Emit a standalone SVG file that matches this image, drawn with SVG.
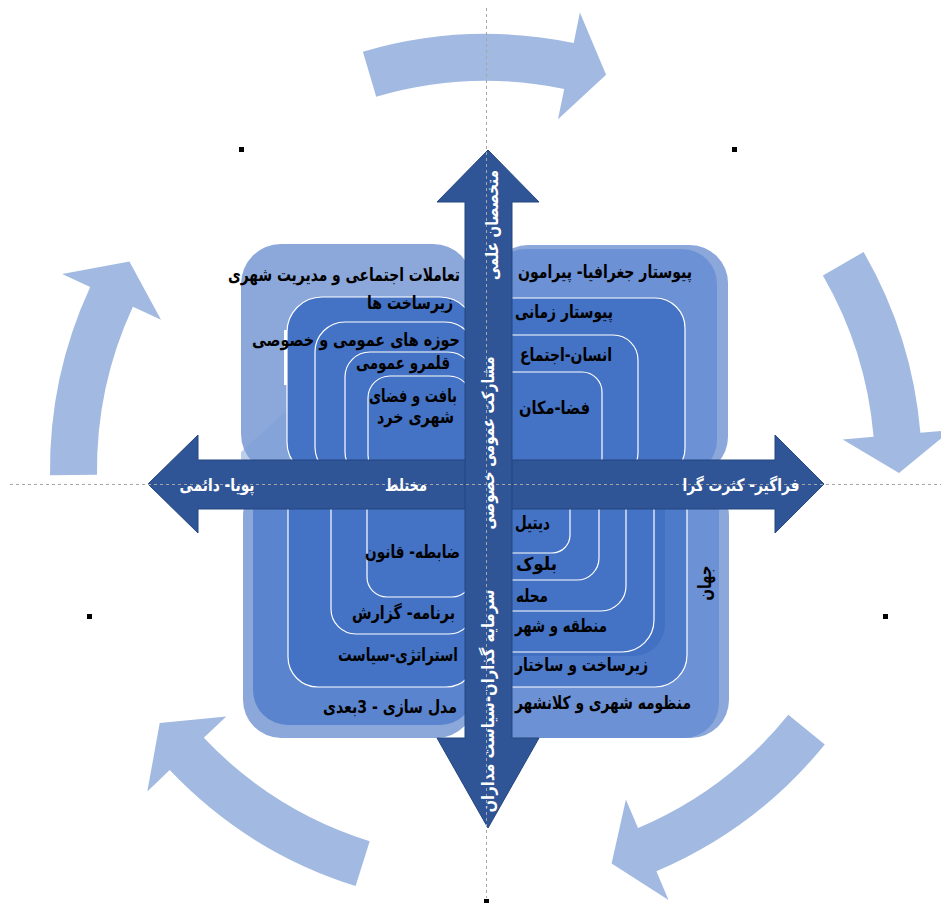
<svg xmlns="http://www.w3.org/2000/svg" width="941" height="904" viewBox="0 0 941 904">
<style>
.arc{fill:#A2BAE1}
.light{fill:#8CA8DB}
.mid{fill:#6C91D5}
.inner{fill:#4472C4;stroke:#fff;stroke-width:1.2}
.arrow{fill:#2F5597;stroke:#24467F;stroke-width:1}
.dash{stroke:#A6A6A6;stroke-width:1;stroke-dasharray:3 3;fill:none}
.t{font-family:"DejaVu Sans","Liberation Sans",sans-serif;font-weight:bold;font-size:18px;fill:#000}
.w{fill:#fff;font-size:17px}
.h{fill:#000}
</style>
<rect width="941" height="904" fill="#fff"/>
<g id="cycle">
<path class="arc" d="M362.9,51.7 A436,436 0 0 1 573.7,42.9 L579.9,12.5 L606.1,74.8 L558,119.3 L564.2,88.9 A389,389 0 0 0 376.2,96.8 Z"/>
<path class="arc" d="M863.6,252 A436,436 0 0 1 920.4,432.8 L951.3,430.1 L899,472.9 L842.7,439.4 L873.6,436.8 A389,389 0 0 0 822.9,275.5 Z"/>
<path class="arc" d="M824.8,744.4 A436,436 0 0 1 656.4,871.3 L668.5,899.9 L611.6,863.5 L625.9,799.5 L638,828.1 A389,389 0 0 0 788.3,714.8 Z"/>
<path class="arc" d="M355.6,886 A436,436 0 0 1 169.7,770.1 L147.3,791.5 L159.7,723.1 L226.3,716.4 L203.8,737.8 A389,389 0 0 0 369.7,841.2 Z"/>
<path class="arc" d="M50,475.3 A436,436 0 0 1 90.2,287.1 L62.1,274.1 L129.4,261.6 L161,319.8 L132.9,306.8 A389,389 0 0 0 97,474.8 Z"/>
</g>
<g id="q-top-left">
<rect class="light" x="241" y="244" width="232" height="230" rx="40"/>
<path d="M241,452 L290,408 L290,474 L241,474 Z" fill="#7C9DD6" opacity="0.5"/>
<rect x="284" y="330" width="3" height="55" fill="#fff"/>
<rect class="inner" x="287" y="297" width="188" height="180" rx="35"/>
<rect class="inner" x="315" y="322" width="160" height="155" rx="30"/>
<rect class="inner" x="345" y="352" width="128" height="125" rx="25"/>
<rect class="inner" x="368" y="376" width="103" height="101" rx="22"/>
</g>
<g id="q-top-right">
<rect class="light" x="490" y="245" width="238" height="230" rx="38"/>
<rect class="mid" x="490" y="249" width="227" height="226" rx="35"/>
<rect class="inner" x="478" y="298" width="207" height="180" rx="30"/>
<rect class="inner" x="480" y="335" width="158" height="143" rx="25"/>
<rect class="inner" x="484" y="372" width="118" height="106" rx="20"/>
</g>
<g id="q-bottom-left">
<rect class="light" x="243" y="478" width="232" height="260" rx="38"/>
<rect x="253" y="478" width="222" height="247" rx="35" fill="#5B84CE"/>
<rect class="inner" x="288" y="478" width="188" height="209" rx="30"/>
<rect class="inner" x="331" y="480" width="143" height="154" rx="25"/>
<rect class="inner" x="367" y="484" width="105" height="113" rx="20"/>
</g>
<g id="q-bottom-right">
<rect class="light" x="480" y="478" width="249" height="260" rx="38"/>
<rect class="mid" x="480" y="478" width="239" height="260" rx="35"/>
<rect class="inner" x="478" y="478" width="209" height="209" rx="32" style="fill:#4E7ACA"/>
<rect x="478" y="478" width="187" height="178" rx="32" fill="#4270C2"/>
<rect class="inner" x="478" y="478" width="176" height="174" rx="32"/>
<rect class="inner" x="480" y="480" width="146" height="131" rx="25"/>
<rect class="inner" x="482" y="482" width="117" height="98" rx="22"/>
<rect class="inner" x="486" y="486" width="84" height="67" rx="18"/>
</g>
<g id="connectors">
<path id="axis-h" class="arrow" d="M148,484 L198,435 L198,460 L775,460 L775,435 L824,484 L775,533 L775,509 L198,509 L198,533 Z"/>
<path id="axis-v" class="arrow" d="M488,150 L539,202 L512,202 L512,738 L539,738 L488,828 L437,738 L465,738 L465,202 L437,202 Z"/>
</g>
<g id="guides">
<line class="dash" x1="486.5" y1="8" x2="486.5" y2="898"/>
<line class="dash" x1="10" y1="484.5" x2="941" y2="484.5"/>
</g>
<g id="labels-top-left" class="t">
<text x="460" y="281" text-anchor="end" textLength="232" lengthAdjust="spacingAndGlyphs">تعاملات اجتماعی و مدیریت شهری</text>
<text x="453" y="309" text-anchor="end" textLength="86" lengthAdjust="spacingAndGlyphs">زیرساخت ها</text>
<text x="460" y="346" text-anchor="end" textLength="208" lengthAdjust="spacingAndGlyphs">حوزه های عمومی و خصوصی</text>
<text x="450" y="369" text-anchor="end" textLength="94" lengthAdjust="spacingAndGlyphs">قلمرو عمومی</text>
<text x="457" y="402" text-anchor="end" textLength="88" lengthAdjust="spacingAndGlyphs">بافت و فضای</text>
<text x="454" y="423" text-anchor="end" textLength="77" lengthAdjust="spacingAndGlyphs">شهری خرد</text>
</g>
<g id="labels-top-right" class="t">
<text x="518" y="278" textLength="174" lengthAdjust="spacingAndGlyphs">پیوستار جغرافیا- پیرامون</text>
<text x="515" y="318" textLength="98" lengthAdjust="spacingAndGlyphs">پیوستار زمانی</text>
<text x="520" y="361" textLength="92" lengthAdjust="spacingAndGlyphs">انسان-اجتماع</text>
<text x="519" y="414" textLength="71" lengthAdjust="spacingAndGlyphs">فضا-مکان</text>
</g>
<g id="labels-bottom-left" class="t">
<text x="460" y="558" text-anchor="end" textLength="95" lengthAdjust="spacingAndGlyphs">ضابطه- قانون</text>
<text x="455" y="619" text-anchor="end" textLength="103" lengthAdjust="spacingAndGlyphs">برنامه- گزارش</text>
<text x="458" y="661" text-anchor="end" textLength="120" lengthAdjust="spacingAndGlyphs">استراتژی-سیاست</text>
<text x="457" y="713" text-anchor="end" textLength="134" lengthAdjust="spacingAndGlyphs">مدل سازی - 3بعدی</text>
</g>
<g id="labels-bottom-right" class="t">
<text x="515" y="529" textLength="35" lengthAdjust="spacingAndGlyphs">دیتیل</text>
<text x="516" y="570" textLength="41" lengthAdjust="spacingAndGlyphs">بلوک</text>
<text x="516" y="602" textLength="32" lengthAdjust="spacingAndGlyphs">محله</text>
<text x="515" y="632" textLength="92" lengthAdjust="spacingAndGlyphs">منطقه و شهر</text>
<text x="515" y="671" textLength="133" lengthAdjust="spacingAndGlyphs">زیرساخت و ساختار</text>
<text x="515" y="709" textLength="176" lengthAdjust="spacingAndGlyphs">منظومه شهری و کلانشهر</text>
<text transform="translate(705,583) rotate(-90)" x="0" y="6" text-anchor="middle" textLength="35" lengthAdjust="spacingAndGlyphs">جهان</text>
</g>
<g id="labels-axes" class="t w">
<text x="217" y="491" text-anchor="middle" textLength="75" lengthAdjust="spacingAndGlyphs">پویا- دائمی</text>
<text x="406" y="491" text-anchor="middle" textLength="42" lengthAdjust="spacingAndGlyphs">مختلط</text>
<text x="741" y="491" text-anchor="middle" textLength="117" lengthAdjust="spacingAndGlyphs">فراگیر- کثرت گرا</text>
<text transform="translate(492,225) rotate(-90)" x="0" y="6" text-anchor="middle" textLength="110" lengthAdjust="spacingAndGlyphs">متخصصان علمی</text>
<text transform="translate(488,443) rotate(-90)" x="0" y="6" text-anchor="middle" textLength="173" lengthAdjust="spacingAndGlyphs">مشارکت عمومی خصوصی</text>
<text transform="translate(488,701) rotate(-90)" x="0" y="6" text-anchor="middle" textLength="223" lengthAdjust="spacingAndGlyphs">سرمایه گذاران-سیاست مداران</text>
</g>
<g id="handles" class="h">
<rect x="239" y="147" width="5" height="5"/>
<rect x="732" y="147" width="5" height="5"/>
<rect x="87" y="614" width="5" height="5"/>
<rect x="883" y="614" width="5" height="5"/>
<rect x="484" y="899" width="5" height="4"/>
</g>
</svg>
